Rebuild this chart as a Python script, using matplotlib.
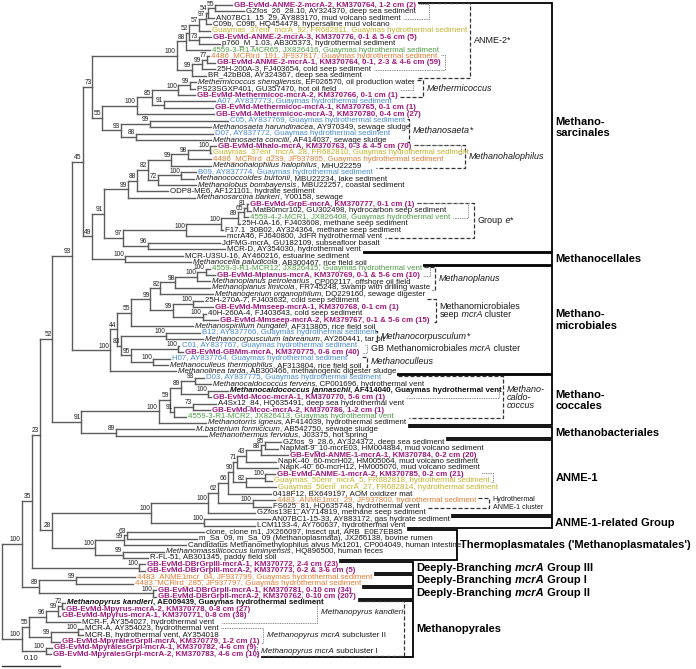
import matplotlib
matplotlib.use("Agg")
import matplotlib.pyplot as plt
from matplotlib.collections import LineCollection

plt.rcParams['font.family'] = ['Liberation Sans', 'DejaVu Sans']

# ---- tree (newick, leaf ids = row numbers, lengths = substitutions/site) ----
anme2 = "(((((((1:0.029,2:0.050)55:0.012,3:0.010)54:0.005,4:0.009)97:0.012,5:0.019)57:0.017,(6:0.021,7:0.036)73:0.017)52:0.005,8:0.041)88:0.016,(((9:0.003,10:0.014)77:0.010,11:0.024)99:0.017,12:0.024)99:0.026)100"
mthc = "(((((13:0.010,14:0.009)99:0.021,15:0.029)100:0.045,(16:0.088,17:0.084)91:0.021)85:0.026,18:0.133)100:0.060,((19:0.134,20:0.105)99:0.050,(21:0.133,22:0.129)88:0.026)93:0.033)55"
sarc = "((((((23:0.010,24:0.002)100:0.038,25:0.040)98:0.029,26:0.069)99:0.040,((27:0.026,28:0.022)100:0.040,29:0.066)72:0.017)82:0.019,30:0.053)88:0.016,31:0.116)99"
grpe = "((((((32:0.002,33:0.007)81:0.005,34:0.007)65:0.010,35:0.003)89:0.029,36:0.003)100:0.060,37:0.067)100:0.109,(38:0.124,39:0.133)96:0.043)97"
mcell = "(40:0.100,41:0.114)100"
mmicro = "((((((((42:0.007,43:0.017)100:0.014,44:0.022)100:0.038,45:0.060)98:0.026,46:0.090)82:0.017,((47:0.016,48:0.033)100:0.036,(49:0.005,50:0.026)100:0.052)99:0.038)99:0.034,51:0.107)55:0.024,((52:0.059,53:0.064)100:0.078,((54:0.003,55:0.009)100:0.081,(56:0.029,57:0.026)100:0.038)95:0.017)83:0.007)44:0.012,58:0.114)100"
mcocc = "((((59:0.017,60:0.028)93:0.024,(61:0.034,62:0.005)100:0.047)89:0.019,((63:0.040,64:0.029)73:0.033,65:0.021)91:0.007)59:0.019,66:0.081)100"
mbact = "(67:0.134,68:0.157)89"
anme1 = "(((((((((69:0.028,70:0.022)85:0.007,71:0.047)88:0.026,72:0.053)43:0.014,73:0.069)71:0.007,((74:0.016,75:0.012)100:0.034,76:0.052)82:0.021)90:0.010,77:0.074)66:0.017,(78:0.038,79:0.031)100:0.060)62:0.017,80:0.081)100:0.098,(81:0.114,82:0.088)100:0.091)100"
thermo = "(((83:0.134,84:0.122)63:0.005,85:0.107)99:0.050,(86:0.072,87:0.043)99:0.048)100"
dbr3 = "(88:0.009,89:0.009)100"
dbr1 = "(90:0.102,91:0.098)99"
dbr2 = "(92:0.005,93:0.005)100"
mpyr = "(((((94:0.005,95:0.003)72:0.007,96:0.003)99:0.022,97:0.059)96:0.029,((98:0.009,99:0.009)100:0.047,100:0.016)99:0.038)55:0.012,(101:0.012,102:0.009)100:0.041)100"
backbone = ("(((((((({anme2}:0.145,{mthc}:0.016)73:0.017,(({sarc}:0.041,{grpe}:0.033)91:0.021,{mcell}:0.057)49:0.016)45:0.019,"
            "{mmicro}:0.066)93:0.033,({mcocc}:0.133,{mbact}:0.060)91:0.050)52:0.022,({anme1}:0.171,{thermo}:0.074)28:0.021)23:0.014,"
            "{dbr3}:0.186)35:0.017,({dbr1}:0.064,{dbr2}:0.198)89:0.029)100:0.034,{mpyr}:0.034)")

leaf_labels = [
    "GB-EvMd-ANME-2-mcrA-2, KM370764, 1-2 cm (2)",
    "GZfos_26_28.10, AY324370, deep sea sediment",
    "AN07BC1_15_29, AY883170, mud volcano sediment",
    "C09b, C09b, HQ454478, hypersaline mud volcano",
    "Guaymas_37enr_mcrA_92, FR682811, Guaymas hydrothermal sediment",
    "GB-EvMd-ANME-2-mcrA-3, KM370776, 0-1 & 5-6 cm (5)",
    "p760_M_1.03, AB305373, hydrothermal sediment",
    "4559-3-R1-MCR65, JX826416, Guaymas hydrothermal sediment",
    "4486_MCRird_191, JF937817, Guaymas hydrothermal sediment",
    "GB-EvMd-ANME-2-mcrA-1, KM370764, 0-1, 2-3 & 4-6 cm (59)",
    "25H-200A-3, FJ403654, cold seep sediment",
    "BR_42bB08, AY324367, deep sea sediment",
    "*Methermicoccus shengliensis*, EF026570, oil production water",
    "PS23SGXP401, GU357470, hot oil field",
    "GB-EvMd-Methermicoc-mcrA-2, KM370766, 0-1 cm (1)",
    "A07, AY837773, Guaymas hydrothermal sediment",
    "GB-EvMd-Methermicoc-mcrA-1, KM370765, 0-1 cm (1)",
    "GB-EvMd-Methermicoc-mcrA-3, KM370780, 0-4 cm (27)",
    "C05, AY837769, Guaymas hydrothermal sediment",
    "*Methanosaeta harundinacea*, AY970349, sewage sludge",
    "D07, AY837772, Guaymas hydrothermal sediment",
    "*Methanosaeta concilii*, AF414037, sewage sludge",
    "GB-EvMd-Mhalo-mcrA, KM370763, 0-3 & 4-5 cm (70)",
    "Guaymas_37enr_mcrA_28, FR682810, Guaymas hydrothermal sediment",
    "4486_MCRird_d239, JF937805, Guaymas hydrothermal sediment",
    "*Methanohalophilus halophilus*, MHU22259",
    "B09, AY837774, Guaymas hydrothermal sediment",
    "*Methanococcoides burtonii*, MBU22234, lake sediment",
    "*Methanolobus bombayensis*, MBU22257, coastal sediment",
    "ODP8-ME6, AF121101, hydrate sediment",
    "*Methanosarcina barkeri*, Y00158, sewage",
    "GB-EvMd-GrpE-mcrA, KM370777, 0-1 cm (1)",
    "MatB0mcr102, GU302498, hydrocarbon seep sediment",
    "4559-4-2-MCR1, JX826408, Guaymas hydrothermal vent",
    "25H-0A-16, FJ403608, methane seep sediment",
    "F17.1_30B02, AY324364, methane seep sediment",
    "mcrA46, FJ640800, JdFR hydrothermal vent",
    "JdFMG-mcrA, GU182109, subseafloor basalt",
    "MCR-D, AY354030, hydrothermal vent",
    "MCR-U3SU-16, AY460216, estuarine sediment",
    "*Methanocella paludicola*, AB300467, rice field soil",
    "4559-3-R1-MCR12, JX826415, Guaymas hydrothermal vent",
    "GB-EvMd-Mplanus-mcrA, KM370769, 0-1 & 5-6 cm (10)",
    "*Methanoplanus petrolearius*, CP002117, offshore oil field",
    "*Methanoplanus limicola*, FR745248, swamp with drilling waste",
    "*Methanogenium organophilum*, DQ229160, sewage digester",
    "25H-270A-7, FJ403632, cold seep sediment",
    "GB-EvMd-Mmseep-mcrA-1, KM370768, 0-1 cm (1)",
    "40H-260A-4, FJ403643, cold seep sediment",
    "GB-EvMd-Mmseep-mcrA-2, KM379767, 0-1 & 5-6 cm (15)",
    "*Methanospirillum hungatei*, AF313805, rice field soil",
    "B12, AY837766, Guaymas hydrothermal sediment",
    "*Methanocorpusculum labreanum*, AY260441, tar pit",
    "C01, AY837767, Guaymas hydrothermal sediment",
    "GB-EvMd-GBMm-mcrA, KM370775, 0-6 cm (40)",
    "H07, AY837764, Guaymas hydrothermal sediment",
    "*Methanoculleus thermophilus*, AF313804, rice field soil",
    "*Methanolinea tarda*, AB300466, methanogenic digester sludge",
    "D03, AY837775, Guaymas hydrothermal sediment",
    "*Methanocaldococcus fervens*, CP001696, hydrothermal vent",
    "*Methanocaldococcus jannaschii*, AF414040, Guaymas hydrothermal vent",
    "GB-EvMd-Mcoc-mcrA-1, KM370770, 5-6 cm (1)",
    "A4Sx12_84, HQ635491, deep sea hydrothermal vent",
    "GB-EvMd-Mcoc-mcrA-2, KM370786, 1-2 cm (1)",
    "4559-3-R1-MCR2, JX826413, Guaymas hydrothermal vent",
    "*Methanotorris igneus*, AF414039, hydrothermal sediment",
    "*M.bacterium formicicum*, AB542750, sewage sludge",
    "*Methanothermus fervidus*, J03375, hot spring",
    "GZfos_9_28.6, AY324372, deep sea sediment",
    "NapMat-9_10-mcrE03, HM004884, mud volcano sediment",
    "GB-EvMd-ANME-1-mcrA-1, KM370784, 0-2 cm (20)",
    "NapK-40_60-mcrH02, HM005064, mud volcano sediment",
    "NapK-40_60-mcrH12, HM005070, mud volcano sediment",
    "GB-EvMd-ANME-1-mcrA-2, KM370785, 0-2 cm (21)",
    "Guaymas_50enr_mcrA_5, FR682818, hydrothermal sediment",
    "Guaymas_50enr_mcrA_27, FR682814, hydrothermal sediment",
    "0418F12, BX649197, AOM oxidizer mat",
    "4483_ANME1mcr_29, JF937800, hydrothermal sediment",
    "FS625_81, HQ635748, hydrothermal vent",
    "GZfos13E1, AY714819, methane seep sediment",
    "AN07BC1-15-33, AY883172, gas hydrate sediment",
    "LCM1133-4, AY760637, hydrothermal vent",
    "clone, clone m1, JX266097, insect gut, ARB_E0E7EB85",
    "m_Sa_09, m_Sa_09 (Methanoplasmata), JX266138, bovine rumen",
    "Candidatus Methanomethylophilus alvus Mx1201, CP004049, human intestine",
    "*Methanomassiliicoccus luminyensis*, HQ896500, human feces",
    "R-FL-51, AB301345, paddy field soil",
    "GB-EvMd-DBrGrpIII-mcrA-1, KM370772, 2-4 cm (23)",
    "GB-EvMd-DBrGrpIII-mcrA-2, KM370773, 0-2 & 3-6 cm (5)",
    "4483_ANME1mcr_04, JF937799, Guaymas hydrothermal sediment",
    "4483_MCRird_285, JF937797, Guaymas hydrothermal sediment",
    "GB-EvMd-DBrGrpII-mcrA-1, KM370781, 0-10 cm (34)",
    "GB-EvMd-DBrGrpII-mcrA-2, KM370762, 0-10 cm (207)",
    "*Methanopyrus kandleri*, AE009439, Guaymas hydrothermal sediment",
    "GB-EvMd-Mpyrus-mcrA-2, KM370778, 0-8 cm (27)",
    "GB-EvMd-Mpyrus-mcrA-1, KM370771, 0-8 cm (38)",
    "MCR-F, AY354027, hydrothermal vent",
    "MCR-A, AY354023, hydrothermal vent",
    "MCR-B, hydrothermal vent, AY354018",
    "GB-EvMd-MpyralesGrpII-mcrA, KM370779, 1-2 cm (1)",
    "GB-EvMd-MpyralesGrpI-mcrA-1, KM370782, 4-6 cm (9)",
    "GB-EvMd-MpyralesGrpI-mcrA-2, KM370783, 4-6 cm (10)",
]
# k plain, kb bold, m sediment clone (GB), y/g/o/b other Guaymas studies
leaf_style = ("m k k k y m k g o m k k "
              "k k m b m m b k b k "
              "m y o k b k k k k "
              "m k g k k k k k k k "
              "g m k k k k m k m k b k b m b k k "
              "b k kb m k m g k k k "
              "k k m k k m y y k o k k k k "
              "k k k k k m m o o m m "
              "kb m m k k k m m m").split()

# clade boxes: (first row, last row)
order_names = ["Methano-\nsarcinales", "Methanocellales", "Methano-\nmicrobiales", "Methano-\ncoccales",
               "Methanobacteriales", "ANME-1", "ANME-1-related Group", "Thermoplasmatales ('Methanoplasmatales')",
               "DBR3", "DBR1", "DBR2", "Methanopyrales"]
order_rows = [(1, 39), (40, 41), (42, 58), (59, 66), (67, 68), (69, 80), (81, 82), (83, 87),
              (88, 89), (90, 91), (92, 93), (94, 102)]
dash_rows = [(1, 12), (13, 15), (19, 22), (23, 26), (32, 37), (42, 45), (47, 50), (52, 53),
             (56, 57), (59, 65), (78, 79), (94, 102)]
dash_names = [[[("ANME-2*", "")]], [[("Methermicoccus", "i")]], [[("Methanosaeta", "i"), ("*", "")]],
              [[("Methanohalophilus", "i")]], [[("Group", ""), (" e", "i"), ("*", "")]],
              [[("Methanoplanus", "i")]],
              [[("Methanomicrobiales", "")], [("seep", ""), (" mcrA", "i"), (" cluster", "")]],
              [[("Methanocorpusculum", "i"), ("*", "")]], [[("Methanoculleus", "i")]],
              [[("Methano-", "i")], [("caldo-", "i")], [("coccus", "i")]],
              [[("Hydrothermal", "")], [("ANME-1 cluster", "")]], None]
dot_rows = [(1, 3), (9, 11), (13, 14), (23, 24), (32, 34), (42, 43), (54, 55), (61, 62), (74, 75),
            (94, 97), (98, 100), (101, 102)]
dot_names = [None, None, None, None, None, None,
             [[("GB Methanomicrobiales", ""), (" mcrA", "i"), (" cluster", "")]],
             None, None,
             [[("Methanopyrus kandleri", "i")]],
             [[("Methanopyrus mcrA", "i"), (" subcluster II", "")]],
             [[("Methanopyrus mcrA", "i"), (" subcluster I", "")]]]

# ---- layout / style ----
order_right = [0.948] * 7 + [0.784] + [0.709] * 4
dash_right = [0.807, 0.726, 0.702, 0.798, 0.814, 0.747, 0.748, 0.647, 0.629, 0.864, 0.840, 0.693]
dash_fs = [6.5] * 10 + [5.1, 6.5]
dot_right = [0.736, 0.764, 0.709, 0.791, 0.803, 0.738, 0.629, 0.857, 0.847, 0.543, 0.450, 0.440]
dot_fs = [6.0] * 6 + [6.5, 6, 6, 5.9, 5.9, 5.9]
style_color = {'k': '#1a1a1a', 'kb': '#111111', 'm': '#a0197d', 'y': '#c4b42c',
               'g': '#4f9d45', 'o': '#e07f38', 'b': '#4a8bd3'}
LEAF_FS = 5.7


def parse(s):
    pos = 0

    def node():
        nonlocal pos
        n = {'kids': [], 'len': 0.0}
        if s[pos] == '(':
            pos += 1
            n['kids'].append(node())
            while s[pos] == ',':
                pos += 1
                n['kids'].append(node())
            pos += 1
        st = pos
        while pos < len(s) and s[pos] not in ':,);':
            pos += 1
        n['name'] = s[st:pos]
        if pos < len(s) and s[pos] == ':':
            pos += 1
            st = pos
            while s[pos] not in ',);':
                pos += 1
            n['len'] = float(s[st:pos])
        return n
    return node()


def layout(n, x0):
    n['x'] = x0 + n['len']
    if n['kids']:
        for k in n['kids']:
            layout(k, n['x'])
        n['y'] = (n['kids'][0]['y'] + n['kids'][-1]['y']) / 2
    else:
        n['y'] = int(n['name']) - 1


tree = parse(backbone.format(anme2=anme2, mthc=mthc, sarc=sarc, grpe=grpe, mcell=mcell, mmicro=mmicro,
                             mcocc=mcocc, mbact=mbact, anme1=anme1, thermo=thermo,
                             dbr3=dbr3, dbr1=dbr1, dbr2=dbr2, mpyr=mpyr))
layout(tree, 0.0)

fig = plt.figure(figsize=(6.96, 6.69), dpi=100)
ax = fig.add_axes([0, 0, 1, 1])
ax.set_xlim(-0.00345, 1.19655)
ax.set_ylim(103.27, -0.778)
ax.axis('off')

segs = []
tips = {}


def walk(n):
    if not n['kids']:
        tips[int(n['name'])] = n['x']
        return
    segs.append([(n['x'], n['kids'][0]['y']), (n['x'], n['kids'][-1]['y'])])
    for k in n['kids']:
        segs.append([(n['x'], k['y']), (k['x'], k['y'])])
        walk(k)
    if n['name']:
        ax.annotate(n['name'], xy=(n['x'], n['y']), xytext=(-0.6, 0.5), textcoords='offset points',
                    ha='right', va='bottom', fontsize=4.8, color='#222222')


walk(tree)
ax.add_collection(LineCollection(segs, colors='#5c5c5c', linewidths=1.0, capstyle='projecting'))


def pieces_text(x, y, pieces, size, color, bold=False):
    prev = None
    for txt, st in pieces:
        kw = dict(fontsize=size, color=color, fontweight='bold' if bold else 'normal',
                  fontstyle='italic' if st == 'i' else 'normal')
        if prev is None:
            prev = ax.text(x, y, txt, ha='left', va='center', **kw)
        else:
            prev = ax.annotate(txt, xy=(1, 0), xycoords=prev, ha='left', va='bottom', **kw)
    return prev


last_piece = []
for i, (lab, sty) in enumerate(zip(leaf_labels, leaf_style)):
    parts = lab.split('*')
    pcs = [(p, 'i' if k % 2 else '') for k, p in enumerate(parts) if p]
    t = pieces_text(tips[i + 1] + 0.0035, i, pcs, LEAF_FS, style_color[sty], bold=sty in ('m', 'kb'))
    last_piece.append(t)

fig.canvas.draw()
rend = fig.canvas.get_renderer()
inv = ax.transData.inverted()
ends = [inv.transform((t.get_window_extent(rend).x1, 0))[0] for t in last_piece]


def bracket(r0, r1, xr, inset, **kw):
    y0 = r0 - 1.5 + inset
    y1 = r1 - 0.5 - inset
    e0 = max(ends[r0 - 1], ends[r0 - 2] if r0 > 1 else 0)
    e1 = max(ends[r1 - 1], ends[r1] if r1 < len(ends) else 0)
    xa = min(e0 + 0.004, xr - 0.004)
    xb = min(e1 + 0.004, xr - 0.004)
    ax.plot([xa, xr, xr, xb], [y0, y0, y1, y1], **kw)
    return (y0 + y1) / 2


def clade_label(x, yc, lines, size, step=1.3):
    n = len(lines)
    for k, pcs in enumerate(lines):
        pieces_text(x, yc + (k - (n - 1) / 2) * step, pcs, size, '#1a1a1a')


for (r0, r1), xr, name in zip(order_rows, order_right, order_names):
    yc = bracket(r0, r1, xr, 0.12, color='black', lw=1.3, solid_joinstyle='miter')
    if name.startswith('DBR'):
        grp = {'DBR3': ' Group III', 'DBR1': ' Group I', 'DBR2': ' Group II'}[name]
        pieces_text(xr + 0.006, yc, [("Deeply-Branching", ""), (" mcrA", "i"), (grp, "")], 8, 'black', bold=True)
    else:
        ax.text(xr + 0.006, yc, name, ha='left', va='center', fontsize=8, fontweight='bold',
                color='black', linespacing=1.15)

for (r0, r1), xr, names, fs in zip(dash_rows, dash_right, dash_names, dash_fs):
    yc = bracket(r0, r1, xr, 0.22, color='#333333', lw=0.9, dashes=(3.2, 1.6))
    if names:
        clade_label(xr + 0.006, yc, names, fs, step=1.25 if fs > 6 else 1.2)

for (r0, r1), xr, names, fs in zip(dot_rows, dot_right, dot_names, dot_fs):
    yc = bracket(r0, r1, xr, 0.32, color='#7a7a7a', lw=0.7, dashes=(0.9, 0.9))
    if names:
        clade_label(xr + 0.007, yc, names, fs)

# scale bar
ax.plot([0.0, 0.10], [102.8, 102.8], color='#333333', lw=1.0)
ax.text(0.05, 102.2, "0.10", ha='center', va='bottom', fontsize=5.5, color='#222222')

fig.savefig("out.png", dpi=100)
